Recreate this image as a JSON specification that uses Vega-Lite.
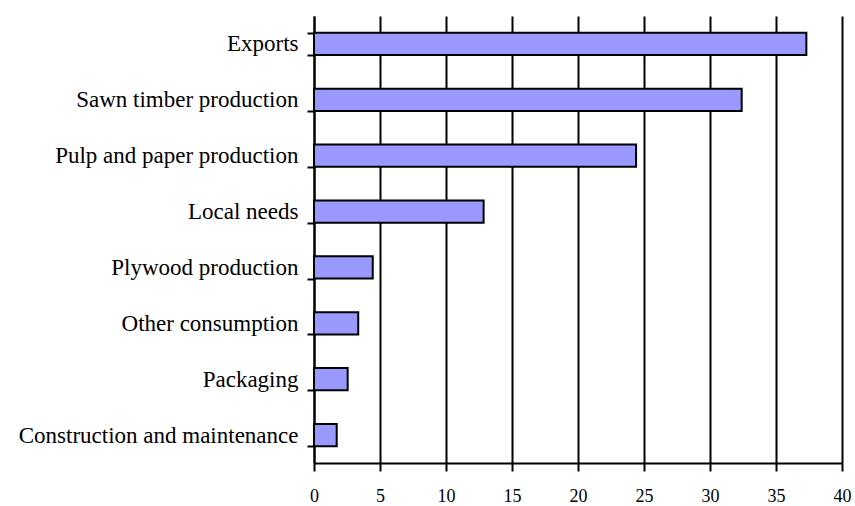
{
  "$schema": "https://vega.github.io/schema/vega-lite/v6.json",
  "width": 528,
  "height": 447,
  "autosize": {"type": "none"},
  "padding": {"left": 314, "top": 16, "right": 13, "bottom": 43},
  "background": "white",
  "config": {
    "view": {"stroke": null},
    "font": "Times New Roman, Liberation Serif, serif"
  },
  "data": {
    "values": [
      {"use": "Exports", "value": 37.3},
      {"use": "Sawn timber production", "value": 32.4},
      {"use": "Pulp and paper production", "value": 24.4},
      {"use": "Local needs", "value": 12.85},
      {"use": "Plywood production", "value": 4.45},
      {"use": "Other consumption", "value": 3.35},
      {"use": "Packaging", "value": 2.55},
      {"use": "Construction and maintenance", "value": 1.72}
    ]
  },
  "mark": {"type": "bar", "fill": "#9999FF", "stroke": "black", "strokeWidth": 2},
  "encoding": {
    "y": {
      "field": "use",
      "type": "nominal",
      "sort": null,
      "scale": {"paddingInner": 0.6, "paddingOuter": 0.3},
      "axis": {
        "title": null,
        "domainColor": "black",
        "domainWidth": 2,
        "tickColor": "black",
        "tickWidth": 2,
        "tickSize": 7,
        "tickBand": "extent",
        "labelFont": "Times New Roman, Liberation Serif, serif",
        "labelFontSize": 23,
        "labelColor": "black",
        "labelPadding": 9,
        "labelLimit": 400
      }
    },
    "x": {
      "field": "value",
      "type": "quantitative",
      "scale": {"domain": [0, 40], "nice": false},
      "axis": {
        "title": null,
        "values": [0, 5, 10, 15, 20, 25, 30, 35, 40],
        "grid": true,
        "gridColor": "black",
        "gridWidth": 2,
        "gridOpacity": 1,
        "domainColor": "black",
        "domainWidth": 2,
        "tickColor": "black",
        "tickWidth": 2,
        "tickSize": 8,
        "labelFont": "Times New Roman, Liberation Serif, serif",
        "labelFontSize": 18,
        "labelColor": "black",
        "labelPadding": 16,
        "labelFlush": false
      }
    }
  }
}
